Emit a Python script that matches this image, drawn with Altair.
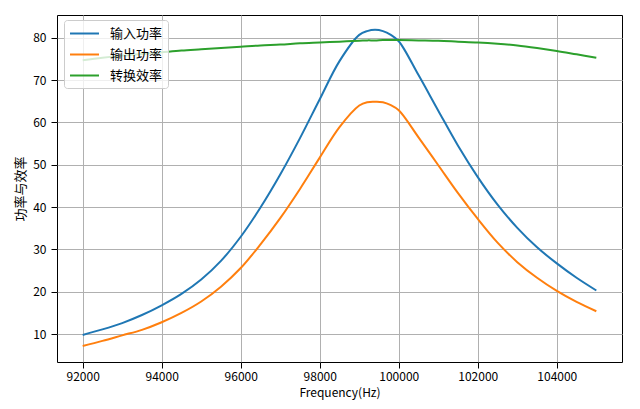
import altair as alt
import pandas as pd

freq = [92000, 92500, 93000, 93500, 94000, 94500, 95000, 95500, 96000, 96500,
        97000, 97500, 98000, 98500, 99000, 99200, 99400, 99600, 99800, 100000,
        100500, 101000, 101500, 102000, 102500, 103000, 103500, 104000, 104500, 105000]
p_in = [9.8, 11.1, 12.6, 14.5, 16.8, 19.5, 22.9, 27.3, 33.0, 39.9,
        47.7, 56.3, 65.5, 74.5, 80.7, 81.6, 81.9, 81.6, 80.7, 79.2,
        71.2, 62.8, 54.5, 47.1, 40.6, 35.1, 30.5, 26.7, 23.3, 20.3]
p_out = [7.2, 8.4, 9.7, 11.0, 12.8, 15.0, 17.7, 21.2, 25.6, 31.2,
         37.4, 44.3, 51.7, 58.9, 64.0, 64.8, 64.9, 64.8, 64.1, 62.9,
         56.5, 49.9, 43.3, 37.2, 31.6, 27.0, 23.3, 20.2, 17.6, 15.4]
eff = [74.7, 75.3, 75.8, 76.2, 76.6, 77.0, 77.3, 77.6, 77.9, 78.2,
       78.4, 78.7, 78.9, 79.1, 79.3, 79.4, 79.4, 79.5, 79.5, 79.5,
       79.4, 79.3, 79.1, 78.9, 78.6, 78.2, 77.6, 76.9, 76.1, 75.3]

series_names = ["输入功率", "输出功率", "转换效率"]
colors = ["#1f77b4", "#ff7f0e", "#2ca02c"]
x_ticks = [92000, 94000, 96000, 98000, 100000, 102000, 104000]
y_ticks = [10, 20, 30, 40, 50, 60, 70, 80]

rows = []
for name, vals in zip(series_names, [p_in, p_out, eff]):
    for f, v in zip(freq, vals):
        rows.append({"freq": f, "value": v, "series": name})
df = pd.DataFrame(rows)

FONT = "Noto Sans CJK SC"

chart = alt.Chart(df).mark_line(strokeWidth=2, interpolate="catmull-rom").encode(
    x=alt.X("freq:Q",
            scale=alt.Scale(domain=[91350, 105650], nice=False, zero=False),
            axis=alt.Axis(values=x_ticks, format="d", title="Frequency(Hz)",
                          labelPadding=3, titlePadding=5, titleFontSize=12)),
    y=alt.Y("value:Q",
            scale=alt.Scale(domain=[3.4, 85.4], nice=False, zero=False),
            axis=alt.Axis(values=y_ticks, title="功率与效率",
                          labelPadding=5, titlePadding=5)),
    color=alt.Color("series:N",
                    scale=alt.Scale(domain=series_names, range=colors),
                    sort=series_names,
                    legend=alt.Legend(title=None, orient="none", legendX=7, legendY=5,
                                      symbolType="M-2,0H2", symbolStrokeWidth=2,
                                      symbolSize=210, symbolOffset=7,
                                      labelFont=FONT, labelFontSize=13,
                                      labelColor="black", labelOffset=17,
                                      fillColor="rgba(255,255,255,0.8)",
                                      strokeColor="#cccccc", cornerRadius=3,
                                      padding=5, rowPadding=5)),
).properties(
    width=565, height=347,
    autosize=alt.AutoSizeParams(type="none"),
    padding={"left": 49, "top": 7, "right": 10, "bottom": 40},
).configure_view(
    stroke="black", strokeWidth=1,
).configure_axis(
    domain=False, tickColor="black", tickSize=6, tickWidth=1,
    gridColor="#b0b0b0", gridWidth=1, gridOpacity=1,
    labelFont=FONT, labelFontSize=12, labelColor="black",
    titleFont=FONT, titleFontSize=13, titleFontWeight="normal", titleColor="black",
)

chart.save("out.html", embed_options={"renderer": "svg", "actions": False})
